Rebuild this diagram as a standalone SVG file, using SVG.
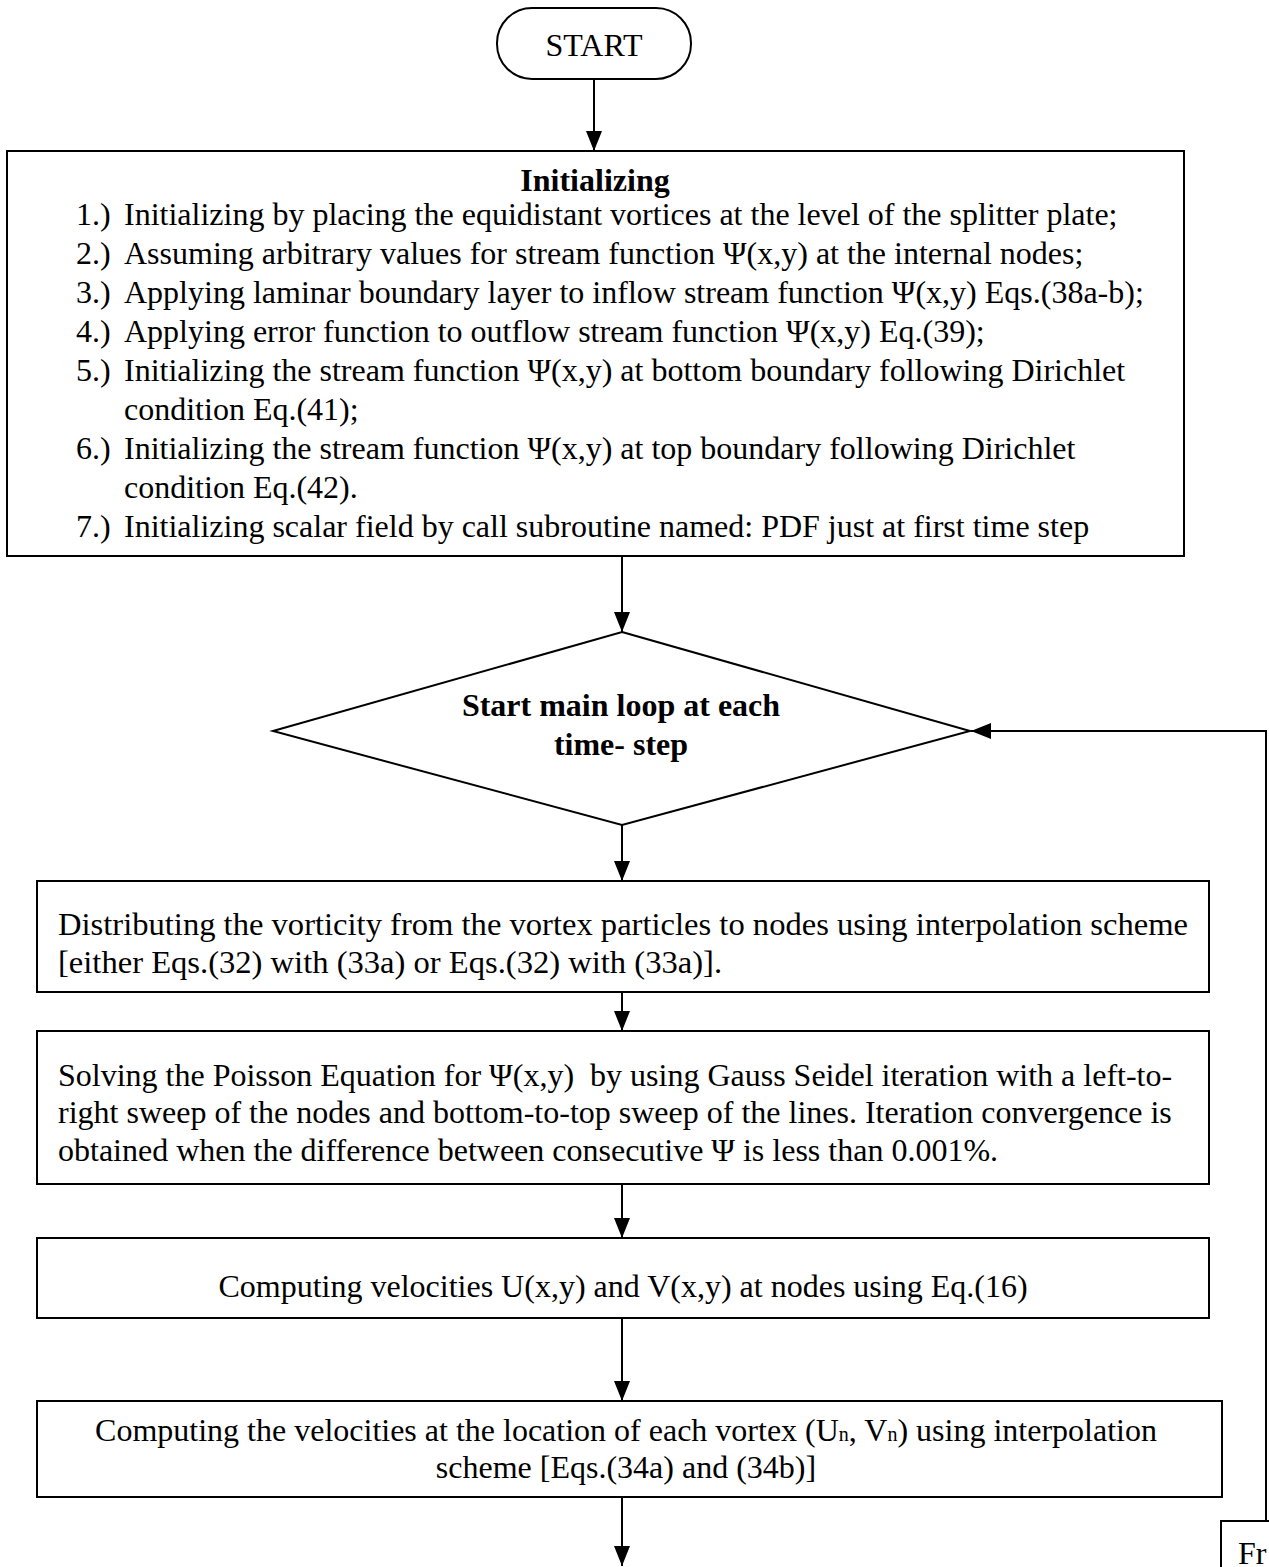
<svg xmlns="http://www.w3.org/2000/svg" width="1269" height="1567" viewBox="0 0 1269 1567">
<style>
.box{fill:#fff;stroke:#000;stroke-width:2}
.t{font-family:"Liberation Serif","Times New Roman",serif;font-size:32px;fill:#000}
.b{font-weight:bold}
.c{text-anchor:middle}
.d{font-size:32.6px}
.con{fill:none;stroke:#000;stroke-width:2}
</style>
<defs>
<marker id="ah" viewBox="0 0 20 16" refX="20" refY="8" markerWidth="20" markerHeight="16" markerUnits="userSpaceOnUse" orient="auto">
<path d="M0,0 L20,8 L0,16 z" fill="#000"/>
</marker>
</defs>
<rect width="1269" height="1567" fill="#fff"/>
<g id="connectors">
<line class="con" x1="594" y1="79" x2="594" y2="151" marker-end="url(#ah)"/>
<line class="con" x1="622" y1="556" x2="622" y2="632" marker-end="url(#ah)"/>
<polyline class="con" points="1266,1521 1266,731 971,731" marker-end="url(#ah)"/>
<line class="con" x1="622" y1="825" x2="622" y2="881" marker-end="url(#ah)"/>
<line class="con" x1="622" y1="992" x2="622" y2="1031" marker-end="url(#ah)"/>
<line class="con" x1="622" y1="1184" x2="622" y2="1238" marker-end="url(#ah)"/>
<line class="con" x1="622" y1="1318" x2="622" y2="1401" marker-end="url(#ah)"/>
<line class="con" x1="622" y1="1497" x2="622" y2="1566" marker-end="url(#ah)"/>
</g>
<g id="start">
<rect class="box" x="497" y="8" width="194" height="71" rx="35" ry="35"/>
<text class="t c" x="594" y="56">START</text>
</g>
<g id="init">
<rect class="box" x="7" y="151" width="1177" height="405"/>
<text class="t b c" x="595" y="191">Initializing</text>
<text class="t" x="76" y="225">1.)<tspan x="124">Initializing by placing the equidistant vortices at the level of the splitter plate;</tspan></text>
<text class="t" x="76" y="264">2.)<tspan x="124">Assuming arbitrary values for stream function Ψ(x,y) at the internal nodes;</tspan></text>
<text class="t" x="76" y="303">3.)<tspan x="124">Applying laminar boundary layer to inflow stream function Ψ(x,y) Eqs.(38a-b);</tspan></text>
<text class="t" x="76" y="342">4.)<tspan x="124">Applying error function to outflow stream function Ψ(x,y) Eq.(39);</tspan></text>
<text class="t" x="76" y="381">5.)<tspan x="124">Initializing the stream function Ψ(x,y) at bottom boundary following Dirichlet</tspan></text>
<text class="t" x="124" y="420">condition Eq.(41);</text>
<text class="t" x="76" y="459">6.)<tspan x="124">Initializing the stream function Ψ(x,y) at top boundary following Dirichlet</tspan></text>
<text class="t" x="124" y="498">condition Eq.(42).</text>
<text class="t" x="76" y="537">7.)<tspan x="124">Initializing scalar field by call subroutine named: PDF just at first time step</tspan></text>
</g>
<g id="loop">
<polygon class="box" points="622,632 970,731 622,825 273,731"/>
<text class="t b c" x="621" y="716">Start main loop at each</text>
<text class="t b c" x="621" y="755">time- step</text>
</g>
<g id="distribute">
<rect class="box" x="37" y="881" width="1172" height="111"/>
<text class="t d" x="58" y="935">Distributing the vorticity from the vortex particles to nodes using interpolation scheme</text>
<text class="t d" x="58" y="973">[either Eqs.(32) with (33a) or Eqs.(32) with (33a)].</text>
</g>
<g id="poisson">
<rect class="box" x="37" y="1031" width="1172" height="153"/>
<text class="t" x="58" y="1086">Solving the Poisson Equation for Ψ(x,y)&#160; by using Gauss Seidel iteration with a left-to-</text>
<text class="t" x="58" y="1123">right sweep of the nodes and bottom-to-top sweep of the lines. Iteration convergence is</text>
<text class="t" x="58" y="1161">obtained when the difference between consecutive Ψ is less than 0.001%.</text>
</g>
<g id="velocities">
<rect class="box" x="37" y="1238" width="1172" height="80"/>
<text class="t c" x="623" y="1297">Computing velocities U(x,y) and V(x,y) at nodes using Eq.(16)</text>
</g>
<g id="vortexvel">
<rect class="box" x="37" y="1401" width="1185" height="96"/>
<text class="t c" x="626" y="1441">Computing the velocities at the location of each vortex (U<tspan font-size="20">n</tspan>, V<tspan font-size="20">n</tspan>) using interpolation</text>
<text class="t c" x="626" y="1478">scheme [Eqs.(34a) and (34b)]</text>
</g>
<g id="from">
<rect class="box" x="1221" y="1521" width="60" height="60"/>
<text class="t" x="1238" y="1564">Fr</text>
</g>
</svg>
